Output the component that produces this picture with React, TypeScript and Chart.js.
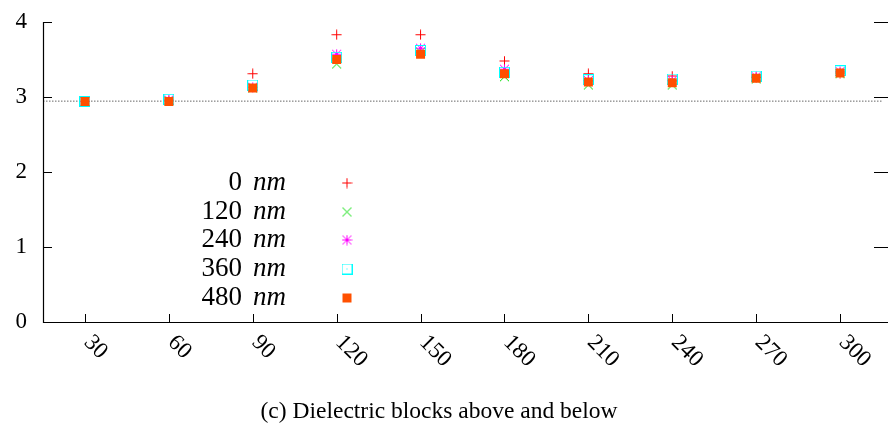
import React, { useEffect, useRef } from 'react';
import { Chart, registerables } from 'chart.js';

Chart.register(...registerables);

// ---- data ----
const xValues = [30, 60, 90, 120, 150, 180, 210, 240, 270, 300];
const seriesNames = ['0', '120', '240', '360', '480'];
const unitLabel = 'nm';
const s0nm = [2.94, 2.95, 3.31, 3.83, 3.83, 3.48, 3.31, 3.28, 3.26, 3.32];
const s120nm = [2.94, 2.95, 3.12, 3.44, 3.60, 3.27, 3.16, 3.16, 3.24, 3.31];
const s240nm = [2.94, 2.96, 3.13, 3.57, 3.65, 3.37, 3.22, 3.22, 3.27, 3.34];
const s360nm = [2.94, 2.97, 3.16, 3.53, 3.62, 3.33, 3.23, 3.24, 3.28, 3.35];
const s480nm = [2.94, 2.94, 3.12, 3.50, 3.57, 3.31, 3.20, 3.19, 3.25, 3.32];
const refLevel = 2.945;
const yTickValues = [0, 1, 2, 3, 4];
const xTickValues = [30, 60, 90, 120, 150, 180, 210, 240, 270, 300];
const xMin = 15;
const xMax = 315;
const yMin = 0;
const yMax = 4;
const captionText = '(c) Dielectric blocks above and below';

const seriesValues = [s0nm, s120nm, s240nm, s360nm, s480nm];
const seriesColors = ['#ff0000', '#00dd00', '#ff00ff', '#00ffff', '#ff5000'];
const seriesShapes = ['plus', 'cross', 'star', 'boxdot', 'square'];

const SERIF = '"Liberation Serif", "DejaVu Serif", serif';

function makeMarker(shape: string, color: string): HTMLCanvasElement {
  const c = document.createElement('canvas');
  c.width = 11;
  c.height = 11;
  const g = c.getContext('2d')!;
  g.strokeStyle = color;
  g.fillStyle = color;
  g.lineWidth = 1;
  const plus = () => {
    g.beginPath();
    g.moveTo(5.5, 0.5);
    g.lineTo(5.5, 10.5);
    g.moveTo(0.5, 5.5);
    g.lineTo(10.5, 5.5);
    g.stroke();
  };
  const cross = () => {
    g.beginPath();
    g.moveTo(1, 1);
    g.lineTo(10, 10);
    g.moveTo(10, 1);
    g.lineTo(1, 10);
    g.stroke();
  };
  if (shape === 'plus') plus();
  else if (shape === 'cross') cross();
  else if (shape === 'star') {
    plus();
    cross();
  } else if (shape === 'boxdot') {
    g.strokeRect(0.5, 0.5, 10, 10);
    g.fillRect(5, 5, 1, 1);
  } else {
    g.fillRect(1, 1, 9, 9);
  }
  return c;
}

export default function App() {
  const ref = useRef<HTMLCanvasElement | null>(null);

  useEffect(() => {
    const canvas = ref.current;
    if (!canvas) return;
    const markers = seriesShapes.map((s, i) => makeMarker(s, seriesColors[i]));

    const datasets: any[] = seriesNames.map((name, i) => ({
      label: name + ' ' + unitLabel,
      data: xValues.map((x, j) => ({ x, y: seriesValues[i][j] })),
      pointStyle: markers[i],
      pointRadius: 5,
      showLine: false,
      order: seriesNames.length - i,
    }));
    datasets.push({
      label: 'reference',
      data: [
        { x: xMin, y: refLevel },
        { x: xMax, y: refLevel },
      ],
      showLine: true,
      borderColor: '#666666',
      borderWidth: 1,
      borderDash: [1.5, 1.5],
      pointRadius: 0,
      order: 10,
    });

    const decor = {
      id: 'decor',
      afterDraw(chart: any) {
        const ctx = chart.ctx;
        const area = chart.chartArea;
        const xs = chart.scales.x;
        const ys = chart.scales.y;
        ctx.save();
        ctx.strokeStyle = '#000';
        ctx.lineWidth = 1.2;
        // axes
        ctx.beginPath();
        ctx.moveTo(area.left + 0.5, area.top);
        ctx.lineTo(area.left + 0.5, area.bottom + 0.5);
        ctx.lineTo(chart.width, area.bottom + 0.5);
        ctx.stroke();
        // ticks (inward)
        ctx.lineWidth = 1;
        ctx.beginPath();
        yTickValues.forEach((v) => {
          const y = Math.round(ys.getPixelForValue(v)) + 0.5;
          ctx.moveTo(area.left, y);
          ctx.lineTo(area.left + 9, y);
          if (v > yMin) {
            ctx.moveTo(area.right - 8, y);
            ctx.lineTo(chart.width, y);
          }
        });
        xTickValues.forEach((v) => {
          const x = Math.round(xs.getPixelForValue(v)) + 0.5;
          ctx.moveTo(x, area.bottom);
          ctx.lineTo(x, area.bottom - 8);
        });
        ctx.stroke();

        ctx.fillStyle = '#000';
        // y labels
        ctx.font = '23px ' + SERIF;
        ctx.textAlign = 'right';
        ctx.textBaseline = 'middle';
        yTickValues.forEach((v) => {
          ctx.fillText(String(v), 27, ys.getPixelForValue(v));
        });
        // x labels, rotated clockwise
        ctx.textAlign = 'left';
        xTickValues.forEach((v) => {
          const x = xs.getPixelForValue(v);
          ctx.save();
          ctx.translate(x + 2.5, area.bottom + 17);
          ctx.rotate(Math.PI / 4);
          ctx.fillText(String(v), 0, 0);
          ctx.restore();
        });
        // legend
        const rowY = [183, 212, 240, 269, 298];
        seriesNames.forEach((name, i) => {
          const y = rowY[i];
          ctx.font = '27px ' + SERIF;
          ctx.textAlign = 'right';
          ctx.fillText(name, 242, y);
          ctx.font = 'italic 27px ' + SERIF;
          ctx.textAlign = 'left';
          ctx.fillText(unitLabel, 253, y);
          ctx.drawImage(markers[i], 347 - 5.5, y - 5.5);
        });
        // caption
        ctx.font = '23.5px ' + SERIF;
        ctx.textAlign = 'center';
        ctx.textBaseline = 'alphabetic';
        ctx.fillText(captionText, 439, 418);
        ctx.restore();
      },
    };

    const chart = new Chart(canvas, {
      type: 'scatter',
      data: { datasets },
      options: {
        animation: false,
        responsive: false,
        maintainAspectRatio: false,
        events: [],
        layout: { padding: { top: 22, right: 2, left: 0, bottom: 0 } },
        plugins: {
          legend: { display: false },
          tooltip: { enabled: false },
          title: { display: false },
        },
        scales: {
          x: {
            type: 'linear',
            min: xMin,
            max: xMax,
            grid: { display: false },
            border: { display: false },
            ticks: { display: false },
            afterFit: (s: any) => {
              s.height = 105;
            },
          },
          y: {
            type: 'linear',
            min: yMin,
            max: yMax,
            grid: { display: false },
            border: { display: false },
            ticks: { display: false },
            afterFit: (s: any) => {
              s.width = 43;
            },
          },
        },
      },
      plugins: [decor],
    });
    return () => chart.destroy();
  }, []);

  return (
    <div style={{ position: 'absolute', left: 0, top: 0, width: 888, height: 427, background: '#fff' }}>
      <canvas ref={ref} width={888} height={427} style={{ width: 888, height: 427, display: 'block' }} />
    </div>
  );
}
